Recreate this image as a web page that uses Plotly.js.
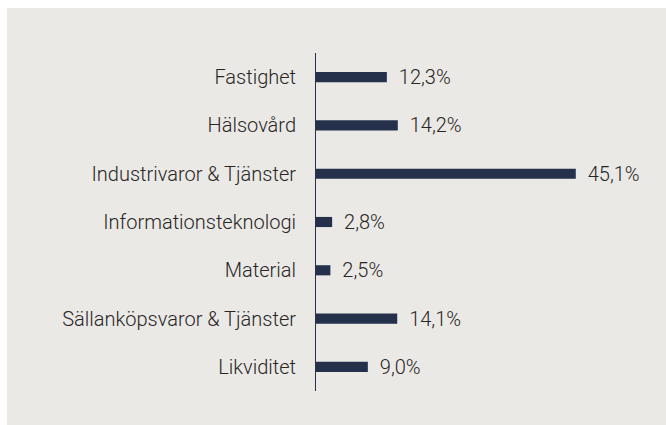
<!DOCTYPE html>
<html>
<head>
<meta charset="utf-8">
<script src="https://cdn.plot.ly/plotly-3.0.1.min.js"></script>
<style>
html,body{margin:0;padding:0;background:#ffffff;}
#chart{position:absolute;left:7px;top:8px;width:659px;height:417px;}
</style>
</head>
<body>
<div id="chart"></div>
<script>
var categories = ["Fastighet","Hälsovård","Industrivaror & Tjänster","Informationsteknologi","Material","Sällanköpsvaror & Tjänster","Likviditet"];
var values = [12.3, 14.2, 45.1, 2.8, 2.5, 14.1, 9.0];
var labels = values.map(function(v){return ' \u2009' + v.toFixed(1).replace('.', ',') + '%';});

var trace = {
  type: 'bar',
  orientation: 'h',
  y: categories,
  x: values,
  text: labels,
  textposition: 'outside',
  constraintext: 'none',
  cliponaxis: false,
  textfont: {family: 'Roboto', size: 20, color: '#262626', weight: 300},
  marker: {color: '#25304a'},
  width: 0.21,
  hoverinfo: 'none'
};

var layout = {
  width: 659, height: 417,
  margin: {l: 309, r: 62, t: 45, b: 34},
  paper_bgcolor: '#ebe9e5',
  plot_bgcolor: '#ebe9e5',
  showlegend: false,
  font: {family: 'Roboto', size: 20, color: '#262626', weight: 300},
  xaxis: {range: [0, 50], visible: false, showgrid: false, zeroline: false},
  yaxis: {
    autorange: 'reversed',
    showgrid: false, zeroline: false,
    showline: true, linecolor: '#25304a', linewidth: 1,
    ticks: '', ticklabelstandoff: 15,
    tickfont: {family: 'Roboto', size: 20, color: '#262626', weight: 300}
  }
};

Plotly.newPlot('chart', [trace], layout, {staticPlot: true, displayModeBar: false});
</script>
</body>
</html>
